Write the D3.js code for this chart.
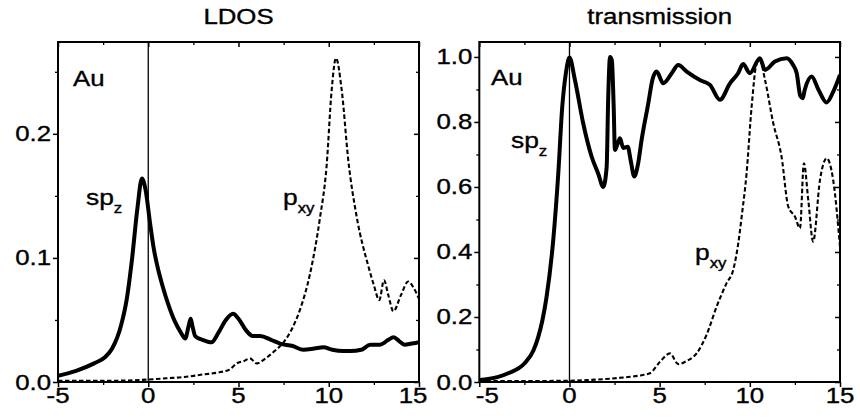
<!DOCTYPE html>
<html>
<head>
<meta charset="utf-8">
<script src="https://cdn.jsdelivr.net/npm/d3@7/dist/d3.min.js"></script>
<style>
  html, body { margin: 0; padding: 0; background: #fff; }
  svg { display: block; }
  text { font-family: "Liberation Sans", Arial, Helvetica, sans-serif; fill: #000; stroke: #000; stroke-width: 0.35px; }
</style>
</head>
<body>
<svg id="chart" width="860" height="419"></svg>
<script>
// Each series is a list of [energy (eV), value] pairs
const ldosSpz = [
  [-5, 0.005], [-4, 0.009], [-3, 0.015], [-2.4, 0.020], [-2, 0.027], [-1.5, 0.046],
  [-1.2, 0.066], [-0.9, 0.099], [-0.6, 0.140], [-0.35, 0.164], [-0.15, 0.155],
  [0.1, 0.128], [0.3, 0.108], [0.56, 0.090], [0.8, 0.077], [1.1, 0.063], [1.5, 0.048],
  [1.8, 0.040], [2.05, 0.035], [2.25, 0.046], [2.35, 0.051], [2.45, 0.045], [2.6, 0.037],
  [3.0, 0.034], [3.5, 0.032], [3.9, 0.040], [4.3, 0.050], [4.7, 0.055], [5.0, 0.051],
  [5.4, 0.042], [5.8, 0.037], [6.2, 0.037], [6.8, 0.034], [7.3, 0.031], [8.0, 0.029],
  [8.6, 0.026], [9.2, 0.027], [9.7, 0.028], [10.2, 0.026], [10.8, 0.025], [11.2, 0.025],
  [11.8, 0.026], [12.3, 0.030], [12.8, 0.030], [13.0, 0.031], [13.3, 0.034], [13.6, 0.036],
  [13.9, 0.033], [14.2, 0.030], [14.6, 0.031], [15.0, 0.032]
];
const ldosPxy = [
  [-5, 0.001], [-2, 0.001], [0, 0.002], [1, 0.003], [2, 0.004], [3, 0.006], [4, 0.008],
  [4.5, 0.010], [4.9, 0.015], [5.3, 0.017], [5.64, 0.019], [6.0, 0.015], [6.5, 0.019],
  [7.0, 0.025], [7.5, 0.032], [8.0, 0.044], [8.4, 0.058], [8.96, 0.087], [9.5, 0.131],
  [9.88, 0.174], [10.16, 0.235], [10.4, 0.261], [10.72, 0.235], [11.08, 0.179],
  [11.55, 0.133], [12.2, 0.093], [12.5, 0.078], [12.8, 0.066], [13.06, 0.082],
  [13.3, 0.070], [13.58, 0.057], [14.0, 0.070], [14.4, 0.081], [14.7, 0.076], [15.0, 0.067]
];
const transSpz = [
  [-5, 0.006], [-4, 0.015], [-3.4, 0.027], [-2.5, 0.057], [-2.0, 0.097], [-1.73, 0.139],
  [-1.5, 0.19], [-1.27, 0.262], [-0.9, 0.437], [-0.62, 0.642], [-0.4, 0.847], [-0.2, 0.95],
  [0.0, 0.998], [0.3, 0.93], [0.76, 0.796], [1.23, 0.693], [1.6, 0.64], [1.87, 0.60],
  [2.06, 0.66], [2.15, 0.88], [2.25, 1.0], [2.35, 0.99], [2.45, 0.85], [2.52, 0.714],
  [2.65, 0.73], [2.8, 0.75], [2.98, 0.72], [3.23, 0.724], [3.4, 0.68], [3.59, 0.632],
  [3.8, 0.67], [4.0, 0.745], [4.37, 0.857], [4.6, 0.93], [4.83, 0.955], [5.2, 0.919],
  [5.67, 0.95], [6.03, 0.975], [6.5, 0.955], [7.23, 0.929], [7.79, 0.914], [8.34, 0.868],
  [8.9, 0.919], [9.35, 0.95], [9.63, 0.978], [10.0, 0.95], [10.56, 0.996], [10.84, 0.96],
  [11.39, 0.986], [12.04, 0.996], [12.4, 0.975], [12.6, 0.95], [12.8, 0.88], [12.93, 0.873],
  [13.05, 0.90], [13.43, 0.94], [13.8, 0.90], [14.26, 0.86], [14.6, 0.89], [15, 0.945]
];
const transPxy = [
  [-5, 0.003], [-2, 0.003], [0, 0.004], [1, 0.006], [2, 0.009], [3, 0.014], [4, 0.021],
  [4.46, 0.027], [5.02, 0.062], [5.57, 0.088], [6.03, 0.055], [6.5, 0.065], [7.05, 0.088],
  [7.6, 0.145], [8.16, 0.232], [8.71, 0.304], [9.08, 0.345], [9.36, 0.427], [9.55, 0.51],
  [9.82, 0.642], [10.1, 0.847], [10.38, 0.98], [10.56, 0.99], [10.84, 0.93], [11.3, 0.796],
  [11.76, 0.693], [12.13, 0.54], [12.5, 0.509], [12.78, 0.473], [13.0, 0.673], [13.24, 0.56],
  [13.51, 0.432], [13.89, 0.622], [14.26, 0.688], [14.62, 0.622], [15.0, 0.416]
];

const xTicks = [-5, 0, 5, 10, 15];
const xMinor = [-2.5, 2.5, 7.5, 12.5];
const ldosTicks = [0.0, 0.1, 0.2];
const ldosMinor = [0.05, 0.15, 0.25];
const transTicks = [0.0, 0.2, 0.4, 0.6, 0.8, 1.0];
const transMinor = [0.1, 0.3, 0.5, 0.7, 0.9];

const svg = d3.select("#chart");
const STRETCH = 1.2;

// Text is drawn slightly widened, like the original typesetting.
function label(parent, x, y, str, anchor, size) {
  const g = parent.append("g").attr("transform", `translate(${x},${y}) scale(${STRETCH},1)`);
  return g.append("text").attr("text-anchor", anchor || "start")
    .attr("font-size", size || 21).text(str);
}
function subLabel(parent, x, y, main, sub) {
  const g = parent.append("g").attr("transform", `translate(${x},${y}) scale(${STRETCH},1)`);
  const t = g.append("text").attr("font-size", 22);
  t.append("tspan").text(main);
  t.append("tspan").attr("font-size", 14).attr("dy", 8).text(sub);
}

function panel(opts) {
  const x = d3.scaleLinear().domain([-5, 15]).range([opts.left, opts.right]);
  const y = d3.scaleLinear().domain([0, opts.ymax]).range([382, 42]);
  const g = svg.append("g");

  const clipId = "clip" + opts.id;
  svg.append("defs").append("clipPath").attr("id", clipId)
    .append("rect").attr("x", opts.left).attr("y", 42)
    .attr("width", opts.right - opts.left).attr("height", 340);

  // zero-energy marker
  g.append("line").attr("x1", x(0)).attr("x2", x(0)).attr("y1", y.range()[1]).attr("y2", y.range()[0])
    .attr("stroke", "#000").attr("stroke-width", 1.3);

  const line = d3.line().x(d => x(d[0])).y(d => y(d[1])).curve(d3.curveMonotoneX);
  const plot = g.append("g").attr("clip-path", `url(#${clipId})`);
  plot.append("path").datum(opts.pxy).attr("d", line).attr("fill", "none")
    .attr("stroke", "#000").attr("stroke-width", 2.1).attr("stroke-dasharray", "4.5,2.5");
  plot.append("path").datum(opts.spz).attr("d", line).attr("fill", "none")
    .attr("stroke", "#000").attr("stroke-width", 4).attr("stroke-linejoin", "round");

  // axes: outward ticks on bottom/left, inward ticks on top/right
  const axes = [
    [() => d3.axisBottom(x), `translate(0,382)`, xTicks, xMinor],
    [() => d3.axisBottom(x), `translate(0,42)`, xTicks, xMinor],
    [() => d3.axisLeft(y), `translate(${opts.left},0)`, opts.ticks, opts.minor],
    [() => d3.axisLeft(y), `translate(${opts.right},0)`, opts.ticks, opts.minor]
  ];
  axes.forEach(([make, tr, major, minor]) => {
    [[major, 5, 1.5], [minor, 3, 1.3]].forEach(([vals, len, w]) => {
      const a = make().tickValues(vals).tickFormat("").tickSizeOuter(0).tickSizeInner(len);
      const ga = g.append("g").attr("transform", tr).call(a);
      ga.select(".domain").remove();
      ga.selectAll("line").attr("stroke-width", w);
    });
  });

  // frame
  g.append("rect").attr("x", opts.left).attr("y", 42)
    .attr("width", opts.right - opts.left).attr("height", 340)
    .attr("fill", "none").attr("stroke", "#000").attr("stroke-width", 2);

  // tick labels
  xTicks.forEach((v, i) => {
    let px = x(v);
    if (opts.id === "L" && i === xTicks.length - 1) px -= 6;
    if (opts.id === "R" && i === 0) px += 8;
    label(g, px, 403, String(v), "middle", 21.5);
  });
  opts.ticks.forEach(v => {
    label(g, opts.left - 7, y(v) + 7.5, v.toFixed(1), "end", 21.5);
  });

  label(g, (opts.left + opts.right) / 2, 24, opts.title, "middle", 21.5);
  label(g, opts.au[0], opts.au[1], "Au", "start", 21.5);
  subLabel(g, opts.spzLab[0], opts.spzLab[1], "sp", "z");
  subLabel(g, opts.pxyLab[0], opts.pxyLab[1], "p", "xy");
}

panel({
  id: "L", left: 58, right: 419, ymax: 0.274, title: "LDOS",
  spz: ldosSpz, pxy: ldosPxy, ticks: ldosTicks, minor: ldosMinor,
  au: [73, 86], spzLab: [86, 205], pxyLab: [283, 205]
});
panel({
  id: "R", left: 479.3, right: 840, ymax: 1.046, title: "transmission",
  spz: transSpz, pxy: transPxy, ticks: transTicks, minor: transMinor,
  au: [491, 85], spzLab: [511, 148], pxyLab: [695, 260]
});
</script>
</body>
</html>
